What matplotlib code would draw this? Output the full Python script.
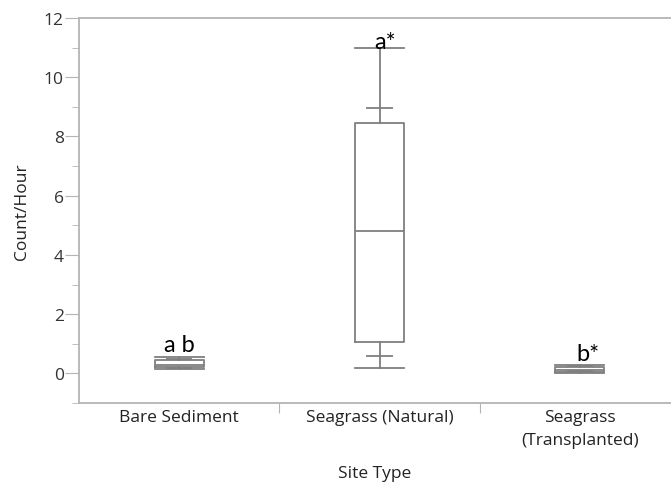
import matplotlib.pyplot as plt

# 每种生境的计数/小时 (箱线图统计量)
sites = ['Bare Sediment', 'Seagrass (Natural)', 'Seagrass\n(Transplanted)']
mins = [0.15, 0.18, 0.02]
p10 = [0.17, 0.6, 0.07]
q1 = [0.2, 1.05, 0.05]
medians = [0.28, 4.82, 0.1]
q3 = [0.45, 8.47, 0.22]
p90 = [0.5, 8.95, 0.25]
maxs = [0.56, 11.0, 0.28]
letters = ['a b', 'a*', 'b*']
letter_y = [0.75, 11.0, 0.45]
letter_dx = [0.0, 0.03, 0.04]

gray = '#7f7f7f'
axis_gray = '#b4b4b4'

fig = plt.figure(figsize=(6.71, 4.85), dpi=100)
ax = fig.add_axes([79 / 671, 1 - 404 / 485, 601 / 671, 385 / 485])

stats = []
for i in range(len(sites)):
    stats.append({'whislo': mins[i], 'q1': q1[i], 'med': medians[i],
                  'q3': q3[i], 'whishi': maxs[i], 'fliers': []})

w = 0.245
ax.bxp(stats, positions=range(len(sites)), widths=w, capwidths=w,
       showfliers=False,
       boxprops=dict(color=gray, linewidth=1.3),
       medianprops=dict(color=gray, linewidth=1.3),
       whiskerprops=dict(color=gray, linewidth=1.3),
       capprops=dict(color=gray, linewidth=1.3))

# 10% / 90% 分位短横线
for i in range(len(sites)):
    ax.hlines([p10[i], p90[i]], i - 0.065, i + 0.065, color=gray, linewidth=1.3)

for i, t in enumerate(letters):
    ax.text(i + letter_dx[i], letter_y[i], t, ha='center', va='baseline',
            fontsize=17, family='Lato', color='black')

ax.set_xlim(-0.5, 2.5)
ax.set_ylim(-1, 12)
ax.set_yticks(range(0, 13, 2))
ax.set_yticks(range(-1, 13, 2), minor=True)
ax.set_xticks([0.5, 1.5])
ax.set_xticklabels([])
for i, s in enumerate(sites):
    ax.text(i, -1.2, s, ha='center', va='top', fontsize=12.5,
            family='Open Sans', color='#222222', linespacing=1.6)

ax.tick_params(axis='y', which='major', length=10, color=axis_gray,
               labelsize=12.5, labelcolor='#333333', pad=1)
ax.tick_params(axis='y', which='minor', length=5, color=axis_gray)
ax.tick_params(axis='x', length=7, color=axis_gray)
for lbl in ax.get_yticklabels():
    lbl.set_family('Open Sans')

for side in ['left', 'bottom', 'top']:
    ax.spines[side].set_color(axis_gray)
    ax.spines[side].set_linewidth(1.3)
ax.spines['right'].set_visible(False)

fig.text(22 / 671, 1 - 212 / 485, 'Count/Hour', rotation=90, ha='center',
         va='center', fontsize=12.5, family='Open Sans', color='#222222')
fig.text(375 / 671, 1 - 474 / 485, 'Site Type', ha='center', va='center',
         fontsize=12.5, family='Open Sans', color='#222222')

fig.savefig('out.png', dpi=100)
